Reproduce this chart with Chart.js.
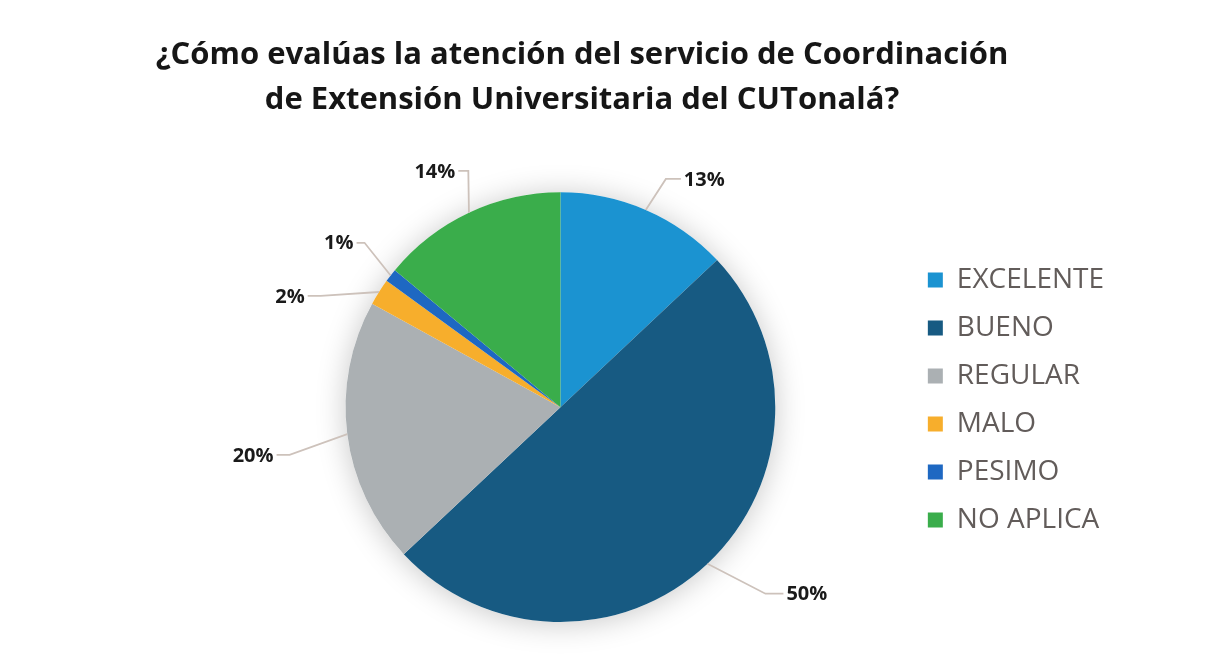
<!DOCTYPE html>
<html><head><meta charset="utf-8">
<script src="https://cdn.jsdelivr.net/npm/chart.js@4.4.0/dist/chart.umd.min.js"></script>
<style>html,body{margin:0;padding:0;background:#fff;}</style>
</head><body>
<canvas id="c" width="1211" height="663"></canvas>
<script>
const titleLines = ['¿Cómo evalúas la atención del servicio de Coordinación', 'de Extensión Universitaria del CUTonalá?'];
const categories = ['EXCELENTE', 'BUENO', 'REGULAR', 'MALO', 'PESIMO', 'NO APLICA'];
const percentValues = [13, 50, 20, 2, 1, 14];

const sliceColors = ['#1b93d1', '#175a82', '#abb0b3', '#f7ae2c', '#1e68c2', '#3aad4b'];
// label leader layout: angle (deg, clockwise from top), radius factor, side, tail length
const labelLayout = [
  {deg: 24.8, f: 1.17, side: 'right', tail: 15},
  {deg: 132.3, f: 1.29, side: 'right', tail: 18},
  {deg: 260, f: 1.28, side: 'left', tail: 13},
  {deg: 294.9, f: 1.23, side: 'left', tail: 13},
  {deg: 310, f: 1.19, side: 'left', tail: 8},
  {deg: 338.7, f: 1.18, side: 'left', tail: 10}
];

const pieShadow = {
  id: 'pieShadow',
  beforeDatasetsDraw(chart) {
    const arc = chart.getDatasetMeta(0).data[0];
    if (!arc) return;
    const p = arc.getProps(['x', 'y', 'outerRadius'], true);
    const ctx = chart.ctx;
    ctx.save();
    ctx.shadowColor = 'rgba(0,0,0,0.22)';
    ctx.shadowBlur = 30;
    ctx.shadowOffsetY = 2;
    ctx.fillStyle = '#fff';
    ctx.beginPath();
    ctx.arc(p.x, p.y, p.outerRadius, 0, Math.PI * 2);
    ctx.fill();
    ctx.restore();
  }
};

const pctLabels = {
  id: 'pctLabels',
  afterDatasetsDraw(chart) {
    const meta = chart.getDatasetMeta(0);
    const data = chart.data.datasets[0].data;
    const total = data.reduce((a, b) => a + b, 0);
    const ctx = chart.ctx;
    ctx.save();
    meta.data.forEach((arc, i) => {
      const p = arc.getProps(['x', 'y', 'startAngle', 'endAngle', 'outerRadius'], true);
      const mid = (p.startAngle + p.endAngle) / 2;
      const R = p.outerRadius;
      const sx = p.x + Math.cos(mid) * R, sy = p.y + Math.sin(mid) * R;
      const L = labelLayout[i];
      const a = (L.deg - 90) * Math.PI / 180;
      const ex = p.x + Math.cos(a) * R * L.f, ey = p.y + Math.sin(a) * R * L.f;
      const dir = L.side === 'right' ? 1 : -1;
      const hx = ex + dir * L.tail;
      ctx.strokeStyle = '#cdc2bb';
      ctx.lineWidth = 1.8;
      ctx.beginPath();
      ctx.moveTo(sx, sy);
      ctx.lineTo(ex, ey);
      ctx.lineTo(hx, ey);
      ctx.stroke();
      ctx.fillStyle = '#1a1a1a';
      ctx.font = 'bold 20px "Open Sans"';
      ctx.textAlign = dir > 0 ? 'left' : 'right';
      ctx.textBaseline = 'middle';
      ctx.fillText(Math.round(data[i] / total * 100) + '%', hx + dir * 3, ey + 1);
    });
    ctx.restore();
  }
};

const adjustBoxes = {
  id: 'adjustBoxes',
  afterLayout(chart) {
    const t = chart.titleBlock;
    const shift = 582 - (t.left + t.right) / 2;
    t.left += shift; t.right += shift;
    const lg = chart.legend;
    lg.top += 89; lg.bottom += 89;
  }
};

new Chart(document.getElementById('c'), {
  type: 'pie',
  data: {
    labels: categories,
    datasets: [{
      data: percentValues,
      backgroundColor: sliceColors,
      borderWidth: 0
    }]
  },
  options: {
    responsive: false,
    animation: false,
    layout: {padding: {left: 213, right: 97, top: 0, bottom: 41}},
    plugins: {
      title: {
        display: true,
        text: titleLines,
        color: '#161616',
        font: {family: 'Open Sans', weight: 'bold', size: 31, lineHeight: 1.44},
        padding: {top: 33, bottom: 70}
      },
      legend: {
        position: 'right',
        align: 'center',
        labels: {
          boxWidth: 15, boxHeight: 15, padding: 20,
          color: '#625c5a',
          font: {family: 'Open Sans', size: 28}
        }
      },
      tooltip: {enabled: false}
    }
  },
  plugins: [pieShadow, pctLabels, adjustBoxes]
});
</script>
</body></html>
